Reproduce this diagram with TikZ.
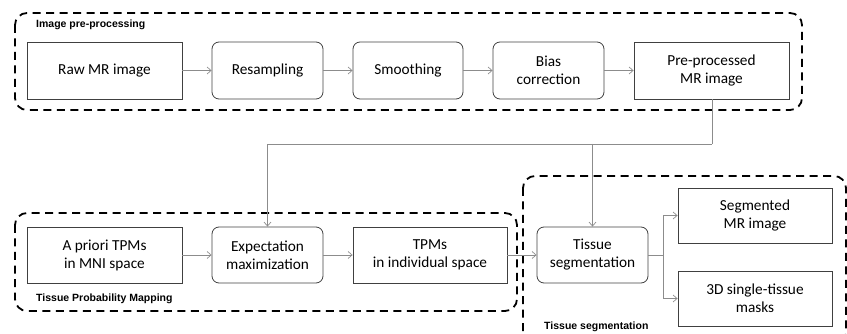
\documentclass[tikz,border=0pt]{standalone}
\usepackage{fontspec}
\setmainfont{Carlito}
\newfontfamily\labfont{Liberation Sans}
\usetikzlibrary{arrows.meta}
\begin{document}
\begin{tikzpicture}[x=1pt,y=-1pt,
  box/.style={draw=black!75,line width=0.8pt,align=center,font=\fontsize{15.3}{18}\selectfont,inner sep=0pt},
  rbox/.style={box,rounded corners=7pt},
  grp/.style={draw=black,line width=1.8pt,dash pattern=on 8pt off 5.5pt,rounded corners=12pt},
  glab/.style={font=\labfont\bfseries\fontsize{10.5}{12}\selectfont,anchor=west,inner sep=0pt},
  conn/.style={draw=black!45,line width=0.7pt},
  arr/.style={conn,-{Straight Barb[length=4pt,width=7pt]}}]
\useasboundingbox (0,0) rectangle (847,334);
% groups
\draw[grp] (15,13) rectangle (802,110);
\draw[grp] (15,213) rectangle (517,311);
\draw[grp] (523,176) rectangle (846,345);
\node[glab] (g1) at (36,25) {Image pre-processing};
\node[glab] (g2) at (36,299) {Tissue Probability Mapping};
\node[glab] (g3) at (544,327) {Tissue segmentation};
% top row
\node[box,minimum width=155pt,minimum height=57pt] (raw) at (104.5,70.5) {Raw MR image};
\node[rbox,minimum width=111pt,minimum height=57pt] (res) at (267.5,70.5) {Resampling};
\node[rbox,minimum width=110pt,minimum height=57pt] (smo) at (408,70.5) {Smoothing};
\node[rbox,minimum width=111pt,minimum height=57pt] (bias) at (548.5,70.5) {Bias\\correction};
\node[box,minimum width=155pt,minimum height=57pt] (pre) at (711.5,70.5) {Pre-processed\\MR image};
% bottom row
\node[box,minimum width=155pt,minimum height=56pt] (apr) at (104.5,255) {A priori TPMs\\in MNI space};
\node[rbox,minimum width=111pt,minimum height=56pt] (em) at (267.5,255) {Expectation\\maximization};
\node[box,minimum width=154pt,minimum height=56pt] (tpm) at (430,255) {TPMs\\in individual space};
\node[rbox,minimum width=111pt,minimum height=56pt] (ts) at (592.5,255) {Tissue\\segmentation};
\node[box,minimum width=154pt,minimum height=55pt] (seg) at (755,215.5) {Segmented\\MR image};
\node[box,minimum width=154pt,minimum height=55pt] (mask) at (755,298.5) {3D single-tissue\\masks};
% connectors
\draw[arr] (raw) -- (res);
\draw[arr] (res) -- (smo);
\draw[arr] (smo) -- (bias);
\draw[arr] (bias) -- (pre);
\draw[arr] (apr) -- (em);
\draw[arr] (em) -- (tpm);
\draw[arr] (tpm) -- (ts);
\coordinate (j1) at (712,144);
\coordinate (j2) at (663,255);
\draw[conn] (pre.south -| j1) -- (j1);
\draw[arr] (j1) -- (em.north |- j1) -- (em.north);
\draw[arr] (ts.north |- j1) -- (ts.north);
\draw[conn] (ts.east) -- (j2);
\draw[arr] (j2) |- (seg.west);
\draw[arr] (j2) |- (mask.west);
\end{tikzpicture}
\end{document}
